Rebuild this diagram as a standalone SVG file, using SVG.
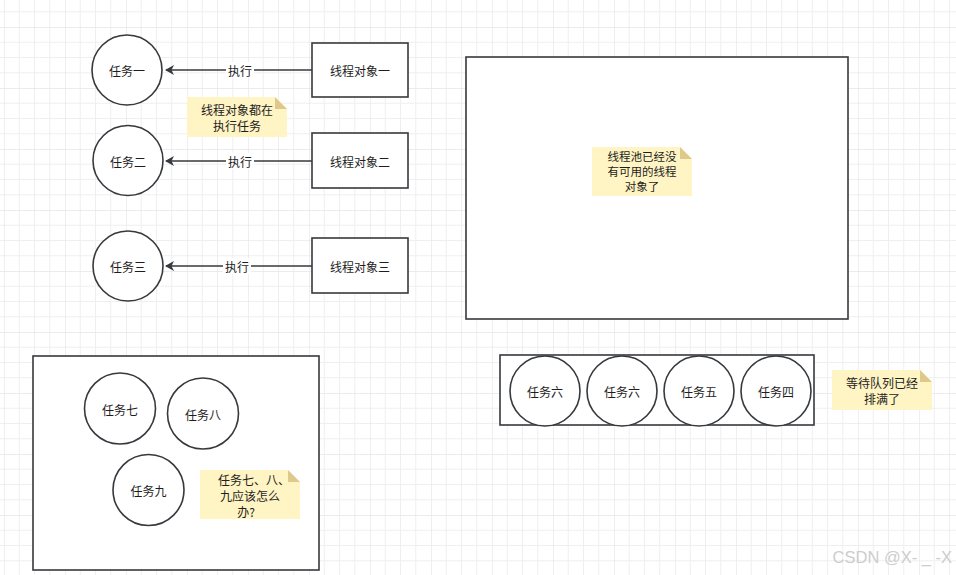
<svg xmlns="http://www.w3.org/2000/svg" width="956" height="575" viewBox="0 0 956 575">
<defs>
<pattern id="grid" x="4" y="-34" width="61" height="61" patternUnits="userSpaceOnUse">
<path d="M15.25 0V61M30.5 0V61M45.75 0V61M0 15.25H61M0 30.5H61M0 45.75H61" stroke="#efefef" stroke-width="1" fill="none"/>
<path d="M0 0V61M0 0H61" stroke="#e6e6e6" stroke-width="1.3" fill="none"/>
</pattern>
<marker id="arr" markerWidth="10" markerHeight="10" refX="8" refY="5" orient="auto" markerUnits="userSpaceOnUse">
<path d="M0 0L9 5L0 10L2.5 5Z" fill="#36393d"/>
</marker>
<style>
.nd{fill:#fff;stroke:#36393d;stroke-width:1.6}
.t{font-family:"Noto Sans CJK SC","Liberation Sans",sans-serif;font-size:12px;fill:#1e1e1e;text-anchor:middle;dominant-baseline:central}
.s{font-size:11.5px}
.note{fill:#fff4c3}
.fold{fill:#dfc98a}
.ln{stroke:#36393d;stroke-width:1.6;fill:none}
.lb{fill:#fff}
</style>
</defs>
<rect width="956" height="575" fill="#fff"/>
<rect width="956" height="575" fill="url(#grid)"/>

<g id="connectors">
<path class="ln" d="M312 70H166" marker-end="url(#arr)"/>
<rect class="lb" x="226" y="62" width="28" height="16"/>
<text class="t" x="240" y="70">执行</text>
<path class="ln" d="M312 161H166" marker-end="url(#arr)"/>
<rect class="lb" x="226" y="153" width="28" height="16"/>
<text class="t" x="240" y="161">执行</text>
<path class="ln" d="M312 266H166" marker-end="url(#arr)"/>
<rect class="lb" x="223" y="258" width="28" height="16"/>
<text class="t" x="237" y="266">执行</text>
</g>

<g id="task1"><circle class="nd" cx="127" cy="70" r="35"/><text class="t" x="127" y="70">任务一</text></g>
<g id="task2"><circle class="nd" cx="128" cy="160.5" r="35"/><text class="t" x="128" y="161">任务二</text></g>
<g id="task3"><circle class="nd" cx="128" cy="266" r="35"/><text class="t" x="128" y="266">任务三</text></g>

<g id="thread1"><rect class="nd" x="312" y="43" width="96" height="54"/><text class="t" x="360" y="70">线程对象一</text></g>
<g id="thread2"><rect class="nd" x="312" y="133" width="96" height="55"/><text class="t" x="360" y="161">线程对象二</text></g>
<g id="thread3"><rect class="nd" x="312" y="238" width="96" height="55"/><text class="t" x="360" y="266">线程对象三</text></g>

<g id="note1">
<path class="note" d="M187 97H275L287 109V137H187Z"/>
<path class="fold" d="M275 97L287 109H275Z"/>
<text class="t" x="237" y="109">线程对象都在</text>
<text class="t" x="237" y="125">执行任务</text>
</g>

<g id="pool"><rect class="nd" x="466" y="57" width="382" height="262"/></g>
<g id="note2">
<path class="note" d="M592 147H680L692 159V196H592Z"/>
<path class="fold" d="M680 147L692 159H680Z"/>
<text class="t s" x="642" y="155.5">线程池已经没</text>
<text class="t s" x="642" y="170.5">有可用的线程</text>
<text class="t s" x="642" y="185.5">对象了</text>
</g>

<g id="queue"><rect class="nd" x="500" y="355" width="314" height="70"/></g>
<g id="task6a"><circle class="nd" cx="545" cy="391" r="35"/><text class="t" x="545" y="391">任务六</text></g>
<g id="task6b"><circle class="nd" cx="622" cy="391" r="35"/><text class="t" x="622" y="391">任务六</text></g>
<g id="task5"><circle class="nd" cx="699" cy="391" r="35"/><text class="t" x="699" y="391">任务五</text></g>
<g id="task4"><circle class="nd" cx="776" cy="391" r="35"/><text class="t" x="776" y="391">任务四</text></g>
<g id="note3">
<path class="note" d="M832 370H920L932 382V410H832Z"/>
<path class="fold" d="M920 370L932 382H920Z"/>
<text class="t" x="882" y="382">等待队列已经</text>
<text class="t" x="882" y="398">排满了</text>
</g>

<g id="rejected"><rect class="nd" x="33" y="356" width="286" height="214"/></g>
<g id="task7"><circle class="nd" cx="120" cy="408.5" r="35.5"/><text class="t" x="120" y="409">任务七</text></g>
<g id="task8"><circle class="nd" cx="203" cy="413.5" r="35.5"/><text class="t" x="203" y="414">任务八</text></g>
<g id="task9"><circle class="nd" cx="148.5" cy="490" r="35.5"/><text class="t" x="148.5" y="490">任务九</text></g>
<g id="note4">
<path class="note" d="M200 470H288L300 482V519H200Z"/>
<path class="fold" d="M288 470L300 482H288Z"/>
<text class="t" x="254" y="479">任务七、八、</text>
<text class="t" x="250" y="495">九应该怎么</text>
<text class="t" x="246" y="511">办?</text>
</g>

<text x="952" y="563" style="font-family:'Liberation Sans',sans-serif;font-size:16.5px;fill:#cdcdcd;text-anchor:end">CSDN @X- _ -X</text>
</svg>
